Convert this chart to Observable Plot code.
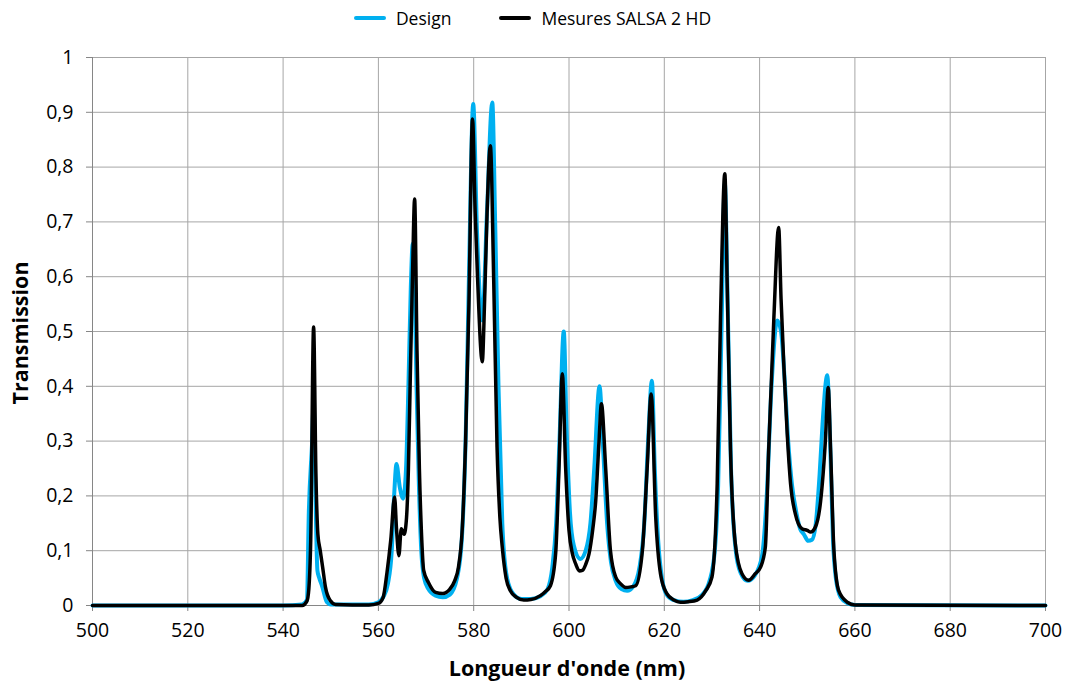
<!DOCTYPE html>
<html>
<head>
<meta charset="utf-8">
<script src="https://cdn.jsdelivr.net/npm/d3@7"></script>
<script src="https://cdn.jsdelivr.net/npm/@observablehq/plot@0.6"></script>
<style>
  html, body { margin: 0; padding: 0; background: #fff; }
  body { width: 1065px; height: 684px; overflow: hidden; font-family: "Open Sans", Lato, sans-serif; }
  #legend { height: 35px; display: flex; justify-content: center; align-items: center; font-size: 17.5px; color: #000; }
  .item { display: flex; align-items: center; margin: 0 24px; }
  .sw { width: 32px; height: 4px; border-radius: 2px; margin-right: 10px; }
</style>
</head>
<body>
<div id="legend"></div>
<div id="chart"></div>
<script>
const seriesNames = ["Design", "Mesures SALSA 2 HD"];
const seriesColors = ["#00b0f0", "#000000"];

const designWl = [500,540,544,545,545.4,546.1,546.4,546.8,547.2,547.6,548.2,549.2,550,558,560,561,562,562.8,563.3,563.8,564.5,565.2,565.8,566.3,566.8,567.2,567.6,568,568.5,569,569.6,570.5,572,573.5,575,576.5,577.5,578.3,579,579.9,580.7,581.8,582.8,583.9,584.5,585.2,586,586.8,588,590,592,594,595.5,596.5,597.3,598,598.9,599.5,600.2,601,602.4,603.5,604.5,605.3,606.4,607.2,608,608.8,609.8,611,612.2,613.5,614.8,615.8,616.6,617.4,618,618.7,619.5,620.5,622,624,626,628,629.5,630.6,631.3,632,632.7,633.3,634,635,636,637.5,639,640.5,641.5,642.5,643.7,644.5,645.2,646,646.8,647.7,648.5,649.3,650.2,651,651.8,652.6,653.2,654.2,654.8,655.4,656,657,658.5,660,700];
const designT = [0,0,0.002,0.01,0.17,0.3,0.37,0.2,0.064,0.05,0.035,0.006,0.002,0.002,0.006,0.015,0.04,0.1,0.2,0.258,0.215,0.195,0.25,0.4,0.58,0.66,0.58,0.4,0.22,0.1,0.05,0.03,0.018,0.015,0.02,0.05,0.12,0.3,0.6,0.915,0.68,0.52,0.72,0.918,0.7,0.4,0.15,0.06,0.025,0.012,0.012,0.017,0.03,0.07,0.15,0.3,0.5,0.32,0.17,0.11,0.085,0.1,0.15,0.25,0.4,0.28,0.15,0.08,0.045,0.03,0.027,0.035,0.07,0.15,0.3,0.41,0.25,0.12,0.05,0.02,0.01,0.007,0.01,0.02,0.045,0.1,0.22,0.5,0.77,0.55,0.25,0.1,0.06,0.045,0.055,0.09,0.2,0.4,0.52,0.5,0.42,0.3,0.22,0.17,0.14,0.13,0.118,0.12,0.15,0.24,0.33,0.42,0.3,0.12,0.05,0.015,0.004,0.001,0];

const mesWl = [500,544,545,545.4,545.8,546.4,546.9,547.3,547.8,548.3,548.9,549.9,551,558,560,561,561.8,562.6,563.4,563.8,564.3,564.8,565.4,565.9,566.3,566.7,567.2,567.6,568.1,568.6,569.1,569.5,570.5,572,573.5,575,576,576.8,577.6,578.3,579,579.75,580.3,580.8,581.8,582.3,582.8,583.5,584.2,584.9,585.5,586,586.8,587.7,589,590.5,592,594,595,596.1,597.2,597.9,598.6,599.3,600,600.7,601.4,602.2,602.8,603.5,604.2,605,605.6,606.3,606.8,607.7,608.7,609.8,610.8,611.9,613,614,615.4,616.4,617.25,618.2,619.2,620.5,622,623.4,625,626.9,628.7,630,631.1,631.8,632.7,633.2,633.9,634.9,636.3,637.7,639.1,640.2,641.2,641.9,643,644,644.5,645.1,645.8,646.5,647.5,648.9,650,650.7,651.7,652.8,653.8,654.4,654.9,655.6,656.6,658.4,660,700];
const mesT = [0,0,0.008,0.03,0.12,0.508,0.234,0.13,0.1,0.07,0.033,0.009,0.002,0.001,0.004,0.015,0.06,0.12,0.198,0.14,0.091,0.14,0.13,0.16,0.25,0.42,0.62,0.742,0.465,0.25,0.12,0.064,0.042,0.024,0.022,0.03,0.045,0.07,0.14,0.3,0.55,0.888,0.72,0.6,0.445,0.56,0.715,0.839,0.593,0.289,0.16,0.106,0.05,0.027,0.015,0.01,0.011,0.018,0.025,0.036,0.095,0.25,0.423,0.25,0.137,0.095,0.076,0.063,0.064,0.075,0.094,0.14,0.19,0.3,0.368,0.25,0.1,0.052,0.04,0.033,0.034,0.036,0.1,0.25,0.386,0.161,0.058,0.022,0.01,0.006,0.007,0.01,0.027,0.052,0.222,0.526,0.788,0.587,0.283,0.113,0.058,0.046,0.058,0.07,0.106,0.283,0.526,0.69,0.56,0.435,0.313,0.222,0.167,0.14,0.137,0.134,0.143,0.19,0.3,0.398,0.283,0.1,0.027,0.006,0.001,0];

const xTicks = [500,520,540,560,580,600,620,640,660,680,700];
const yTicks = [0,0.1,0.2,0.3,0.4,0.5,0.6,0.7,0.8,0.9,1];

const design = designWl.map((w, i) => ({wl: w, t: designT[i]}));
const mes = mesWl.map((w, i) => ({wl: w, t: mesT[i]}));

// legend
const lg = document.getElementById("legend");
seriesNames.forEach((n, i) => {
  const it = document.createElement("div"); it.className = "item";
  const sw = document.createElement("div"); sw.className = "sw"; sw.style.background = seriesColors[i];
  const tx = document.createElement("span"); tx.textContent = n;
  it.appendChild(sw); it.appendChild(tx); lg.appendChild(it);
});

const fmt = d => String(d3.format("~g")(d)).replace(".", ",");

const chart = Plot.plot({
  width: 1065,
  height: 649,
  marginLeft: 92,
  marginRight: 20,
  marginTop: 22,
  marginBottom: 79,
  style: {fontFamily: "'Open Sans', Lato, sans-serif", fontSize: "19.5px", color: "#000", background: "#fff"},
  x: {domain: [500, 700], ticks: xTicks},
  y: {domain: [0, 1], ticks: yTicks},
  marks: [
    Plot.gridX(xTicks, {stroke: "#a6a6a6", strokeOpacity: 1, strokeWidth: 1}),
    Plot.gridY(yTicks, {stroke: "#a6a6a6", strokeOpacity: 1, strokeWidth: 1}),
    Plot.axisX({ticks: xTicks, tickSize: 6, tickPadding: 12, tickFormat: d => d, label: null, stroke: "#868686", fill: "#000"}),
    Plot.axisY({ticks: yTicks, tickSize: 6, tickPadding: 13, tickFormat: fmt, label: null, stroke: "#868686", fill: "#000"}),
    Plot.ruleX([500], {stroke: "#868686"}),
    Plot.ruleY([0], {stroke: "#868686"}),
    Plot.line(design, {x: "wl", y: "t", stroke: seriesColors[0], strokeWidth: 4, curve: "monotone-x"}),
    Plot.line(mes, {x: "wl", y: "t", stroke: seriesColors[1], strokeWidth: 3.5, curve: "monotone-x"})
  ]
});
document.getElementById("chart").appendChild(chart);

const svg = d3.select(chart);
svg.append("text")
  .attr("x", 567).attr("y", 641)
  .attr("text-anchor", "middle")
  .style("font-weight", "bold").style("font-size", "21.5px").attr("fill", "#000")
  .text("Longueur d'onde (nm)");
svg.append("text")
  .attr("transform", "translate(28,298) rotate(-90)")
  .attr("text-anchor", "middle")
  .style("font-weight", "bold").style("font-size", "21.5px").attr("fill", "#000")
  .text("Transmission");
</script>
</body>
</html>
